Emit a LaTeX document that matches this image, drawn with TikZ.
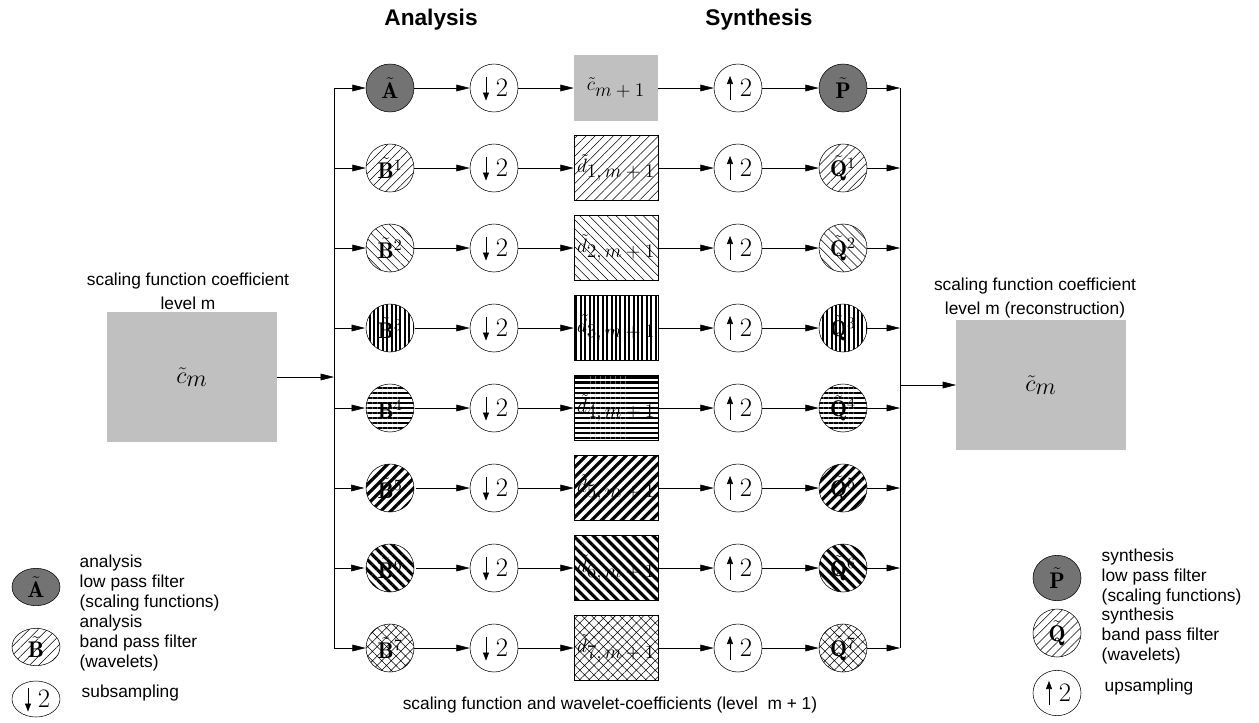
\RequirePackage{fix-cm}
\documentclass[tikz,border=0pt]{standalone}
\usepackage{amsmath}
\usepackage{amssymb}
\usepackage{fontspec}
\setsansfont{Liberation Sans}
\usepackage{tikz}
\usetikzlibrary{arrows.meta, positioning, shapes.geometric, patterns.meta}

\definecolor{boxgray}{HTML}{C0C0C0}
\definecolor{filtgray}{HTML}{737373}

\begin{document}
\begin{tikzpicture}[
  x=0.75pt, y=-0.75pt,
  >={Triangle[length=10pt,width=5pt]},
  filt/.style={draw, circle, minimum size=36pt, inner sep=0pt, font=\fontsize{17}{17}\selectfont},
  samp/.style={draw, circle, minimum size=36pt, inner sep=0pt, font=\fontsize{20}{20}\selectfont},
  down/.style={samp, path picture={\draw[-{Triangle[length=6pt,width=4.5pt]}] ([xshift=-6pt,yshift=8.6pt]path picture bounding box.center) -- ++(0pt,-18pt);}},
  up/.style={samp, path picture={\draw[-{Triangle[length=6pt,width=4.5pt]}] ([xshift=-6pt,yshift=-9pt]path picture bounding box.center) -- ++(0pt,18pt);}},
  coef/.style={draw, rectangle, minimum width=63pt, minimum height=49pt, inner sep=0pt, font=\fontsize{14.5}{14.5}\selectfont},
  big/.style={rectangle, fill=boxgray, minimum width=127pt, minimum height=97pt, font=\fontsize{18}{18}\selectfont},
  title/.style={font=\sffamily\bfseries\fontsize{17}{17}\selectfont},
  txt/.style={font=\sffamily\fontsize{13}{18}\selectfont, align=center},
  legtxt/.style={font=\sffamily\fontsize{13}{15}\selectfont, align=left, anchor=west},
  hatch1/.style={pattern={Lines[angle=45,distance=4.8pt,line width=0.4pt]}},
  hatch2/.style={pattern={Lines[angle=-45,distance=4.8pt,line width=0.4pt]}},
  hatch3/.style={pattern={Lines[angle=90,distance=3.3pt,line width=1.5pt]}},
  hatch4/.style={pattern={Lines[angle=0,distance=3.8pt,line width=1.6pt]}},
  hatch5/.style={pattern={Lines[angle=45,distance=5.3pt,line width=2.4pt]}},
  hatch6/.style={pattern={Lines[angle=-45,distance=5.3pt,line width=2.4pt]}},
  hatch7/.style={pattern={Hatch[angle=45,distance=5pt,line width=0.4pt]}}
]
\useasboundingbox (0,0) rectangle (1259,722);

% Titles
\node[title] (tana) at (431,20) {Analysis};
\node[title] (tsyn) at (759,20) {Synthesis};

% Low pass row
\node[filt, fill=filtgray] (an0) at (390,88) {$\tilde{\mathbf{A}}$};
\node[down] (dn0) at (494,88) {\hspace*{12pt}2};
\node[coef, draw=none, fill=boxgray] (co0) at (616,88) {$\tilde{c}_{\textstyle m+1}$};
\node[up] (up0) at (738,88) {\hspace*{12pt}2};
\node[filt, fill=filtgray] (sy0) at (843,88) {$\tilde{\mathbf{P}}$};
\coordinate (ai0) at (334,88);
\coordinate (so0) at (900,88);
\draw[->] (ai0) -- (an0);
\draw[->] (an0) -- (dn0);
\draw[->] (dn0) -- (co0);
\draw[->] (co0) -- (up0);
\draw[->] (up0) -- (sy0);
\draw[->] (sy0) -- (so0);

% Band pass rows
\foreach \k in {1,...,7} {
  \pgfmathsetmacro\yy{88+80*\k}
  \node[filt, hatch\k] (an\k) at (390,\yy) {$\tilde{\mathbf{B}}^{\k}$};
  \node[down] (dn\k) at (494,\yy) {\hspace*{12pt}2};
  \node[coef, hatch\k] (co\k) at (616,\yy) {$\tilde{d}_{\textstyle \k,m+1}$};
  \node[up] (up\k) at (738,\yy) {\hspace*{12pt}2};
  \node[filt, hatch\k] (sy\k) at (843,\yy) {$\tilde{\mathbf{Q}}^{\k}$};
  \coordinate (ai\k) at (334,\yy);
  \coordinate (so\k) at (900,\yy);
  \draw[->] (ai\k) -- (an\k);
  \draw[->] (an\k) -- (dn\k);
  \draw[->] (dn\k) -- (co\k);
  \draw[->] (co\k) -- (up\k);
  \draw[->] (up\k) -- (sy\k);
  \draw[->] (sy\k) -- (so\k);
}

% Buses
\draw (ai0) -- (ai7);
\draw (so0) -- (so7);

% Input and output coefficients
\node[big] (cin) at (192,377) {$\tilde{c}_{\textstyle m}$};
\node[txt] (lin) at (188,291) {scaling function coefficient\\level m};
\coordinate (busin) at (334,377);
\draw[->] (cin) -- (busin);
\node[big] (cout) at (1041,385) {$\tilde{c}_{\textstyle m}$};
\node[txt] (lout) at (1035,298) {scaling function coefficient\\level m (reconstruction)};
\coordinate (busout) at (900,385);
\draw[->] (busout) -- (cout);

\node[txt] (lbot) at (610,705) {scaling function and wavelet-coefficients (level~ m + 1)};

% Legend analysis
\node[draw, ellipse, minimum width=36pt, minimum height=28pt, inner sep=0pt, fill=filtgray, font=\fontsize{17}{17}\selectfont] (lga) at (36,587) {$\tilde{\mathbf{A}}$};
\node[draw, ellipse, minimum width=36pt, minimum height=28pt, inner sep=0pt, hatch1, font=\fontsize{17}{17}\selectfont] (lgb) at (36,647) {$\tilde{\mathbf{B}}$};
\node[down, ellipse, minimum width=36pt, minimum height=27pt] (lgd) at (36,699) {\hspace*{12pt}2};
\node[legtxt] (tga) at (75,583) {analysis\\low pass filter\\(scaling functions)};
\node[legtxt] (tgb) at (75,643) {analysis\\band pass filter\\(wavelets)};
\node[legtxt] (tgd) at (77,693) {subsampling};

% Legend synthesis
\node[draw, ellipse, minimum width=36pt, minimum height=34pt, inner sep=0pt, fill=filtgray, font=\fontsize{17}{17}\selectfont] (lgp) at (1057,578) {$\tilde{\mathbf{P}}$};
\node[draw, ellipse, minimum width=36pt, minimum height=36pt, inner sep=0pt, hatch1, font=\fontsize{17}{17}\selectfont] (lgq) at (1057,633) {$\tilde{\mathbf{Q}}$};
\node[up, ellipse, minimum width=36pt, minimum height=34pt] (lgu) at (1057,693) {\hspace*{12pt}2};
\node[legtxt] (tgp) at (1097,577) {synthesis\\low pass filter\\(scaling functions)};
\node[legtxt] (tgq) at (1097,636) {synthesis\\band pass filter\\(wavelets)};
\node[legtxt] (tgu) at (1100,687) {upsampling};

\end{tikzpicture}
\end{document}
